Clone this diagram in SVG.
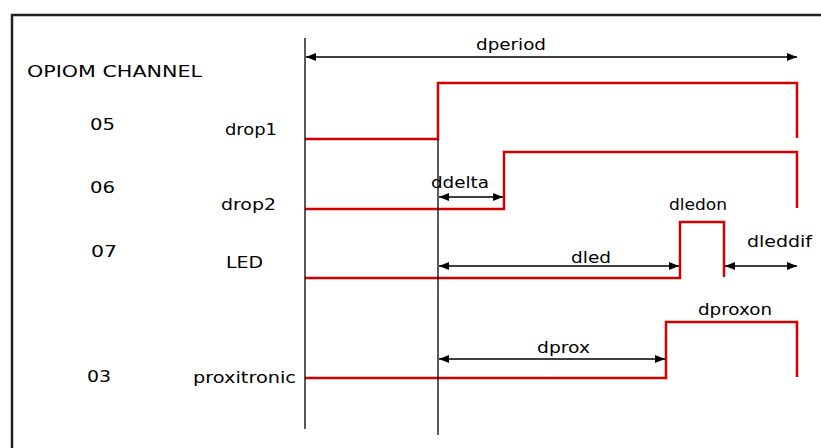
<svg xmlns="http://www.w3.org/2000/svg" width="821" height="448" viewBox="0 0 821 448">
<defs>
<marker id="ah" viewBox="0 0 10 8" refX="10" refY="4" markerWidth="10" markerHeight="8" markerUnits="userSpaceOnUse" orient="auto-start-reverse">
<path d="M0,0 L10,4 L0,8 Z" fill="#000"/>
</marker>
<style>
text{font-family:"DejaVu Sans","Liberation Sans",sans-serif;font-size:16px;fill:#000}
.sig{fill:none;stroke:#d40000;stroke-width:2.5}
.dim{stroke:#000;stroke-width:1.3;marker-start:url(#ah);marker-end:url(#ah)}
.ref{stroke:#000;stroke-width:1.3}
</style>
</defs>
<rect width="821" height="448" fill="#fff"/>
<path d="M12,448 L12,15 L821,15" fill="none" stroke="#222" stroke-width="2.5"/>
<g id="labels">
<text x="27" y="77" textLength="175" lengthAdjust="spacingAndGlyphs">OPIOM CHANNEL</text>
<text x="90" y="130" textLength="25" lengthAdjust="spacingAndGlyphs">05</text>
<text x="90" y="193" textLength="25" lengthAdjust="spacingAndGlyphs">06</text>
<text x="91" y="257" textLength="26" lengthAdjust="spacingAndGlyphs">07</text>
<text x="87" y="382" textLength="24" lengthAdjust="spacingAndGlyphs">03</text>
</g>
<g id="sig-drop1">
<text x="225" y="135" textLength="52" lengthAdjust="spacingAndGlyphs">drop1</text>
<path class="sig" d="M305,139 H438 V83 H797 V138"/>
</g>
<g id="sig-drop2">
<text x="221" y="210" textLength="55" lengthAdjust="spacingAndGlyphs">drop2</text>
<path class="sig" d="M305,209 H504 V152 H797 V208"/>
</g>
<g id="sig-led">
<text x="226" y="268" textLength="37" lengthAdjust="spacingAndGlyphs">LED</text>
<path class="sig" d="M305,278 H680 V222 H724 V277"/>
</g>
<g id="sig-prox">
<text x="193" y="383" textLength="103" lengthAdjust="spacingAndGlyphs">proxitronic</text>
<path class="sig" d="M305,378 H666 V322 H797 V377"/>
</g>
<g id="connectors">
<line class="ref" x1="305" y1="38" x2="305" y2="429"/>
<line class="ref" x1="438" y1="139" x2="438" y2="435"/>
<line class="dim" x1="306" y1="57" x2="797" y2="57"/>
<line class="dim" x1="439" y1="197" x2="503" y2="197"/>
<line class="dim" x1="439" y1="266" x2="679" y2="266"/>
<line class="dim" x1="725" y1="266" x2="797" y2="266"/>
<line class="dim" x1="439" y1="359" x2="665" y2="359"/>
</g>
<g id="dim-labels">
<text x="476" y="50" textLength="70" lengthAdjust="spacingAndGlyphs">dperiod</text>
<text x="431" y="188" textLength="58" lengthAdjust="spacingAndGlyphs">ddelta</text>
<text x="669" y="210" textLength="58" lengthAdjust="spacingAndGlyphs">dledon</text>
<text x="571" y="263" textLength="40" lengthAdjust="spacingAndGlyphs">dled</text>
<text x="747" y="247" textLength="65" lengthAdjust="spacingAndGlyphs">dleddif</text>
<text x="537" y="353" textLength="53" lengthAdjust="spacingAndGlyphs">dprox</text>
<text x="698" y="315" textLength="74" lengthAdjust="spacingAndGlyphs">dproxon</text>
</g>
</svg>
